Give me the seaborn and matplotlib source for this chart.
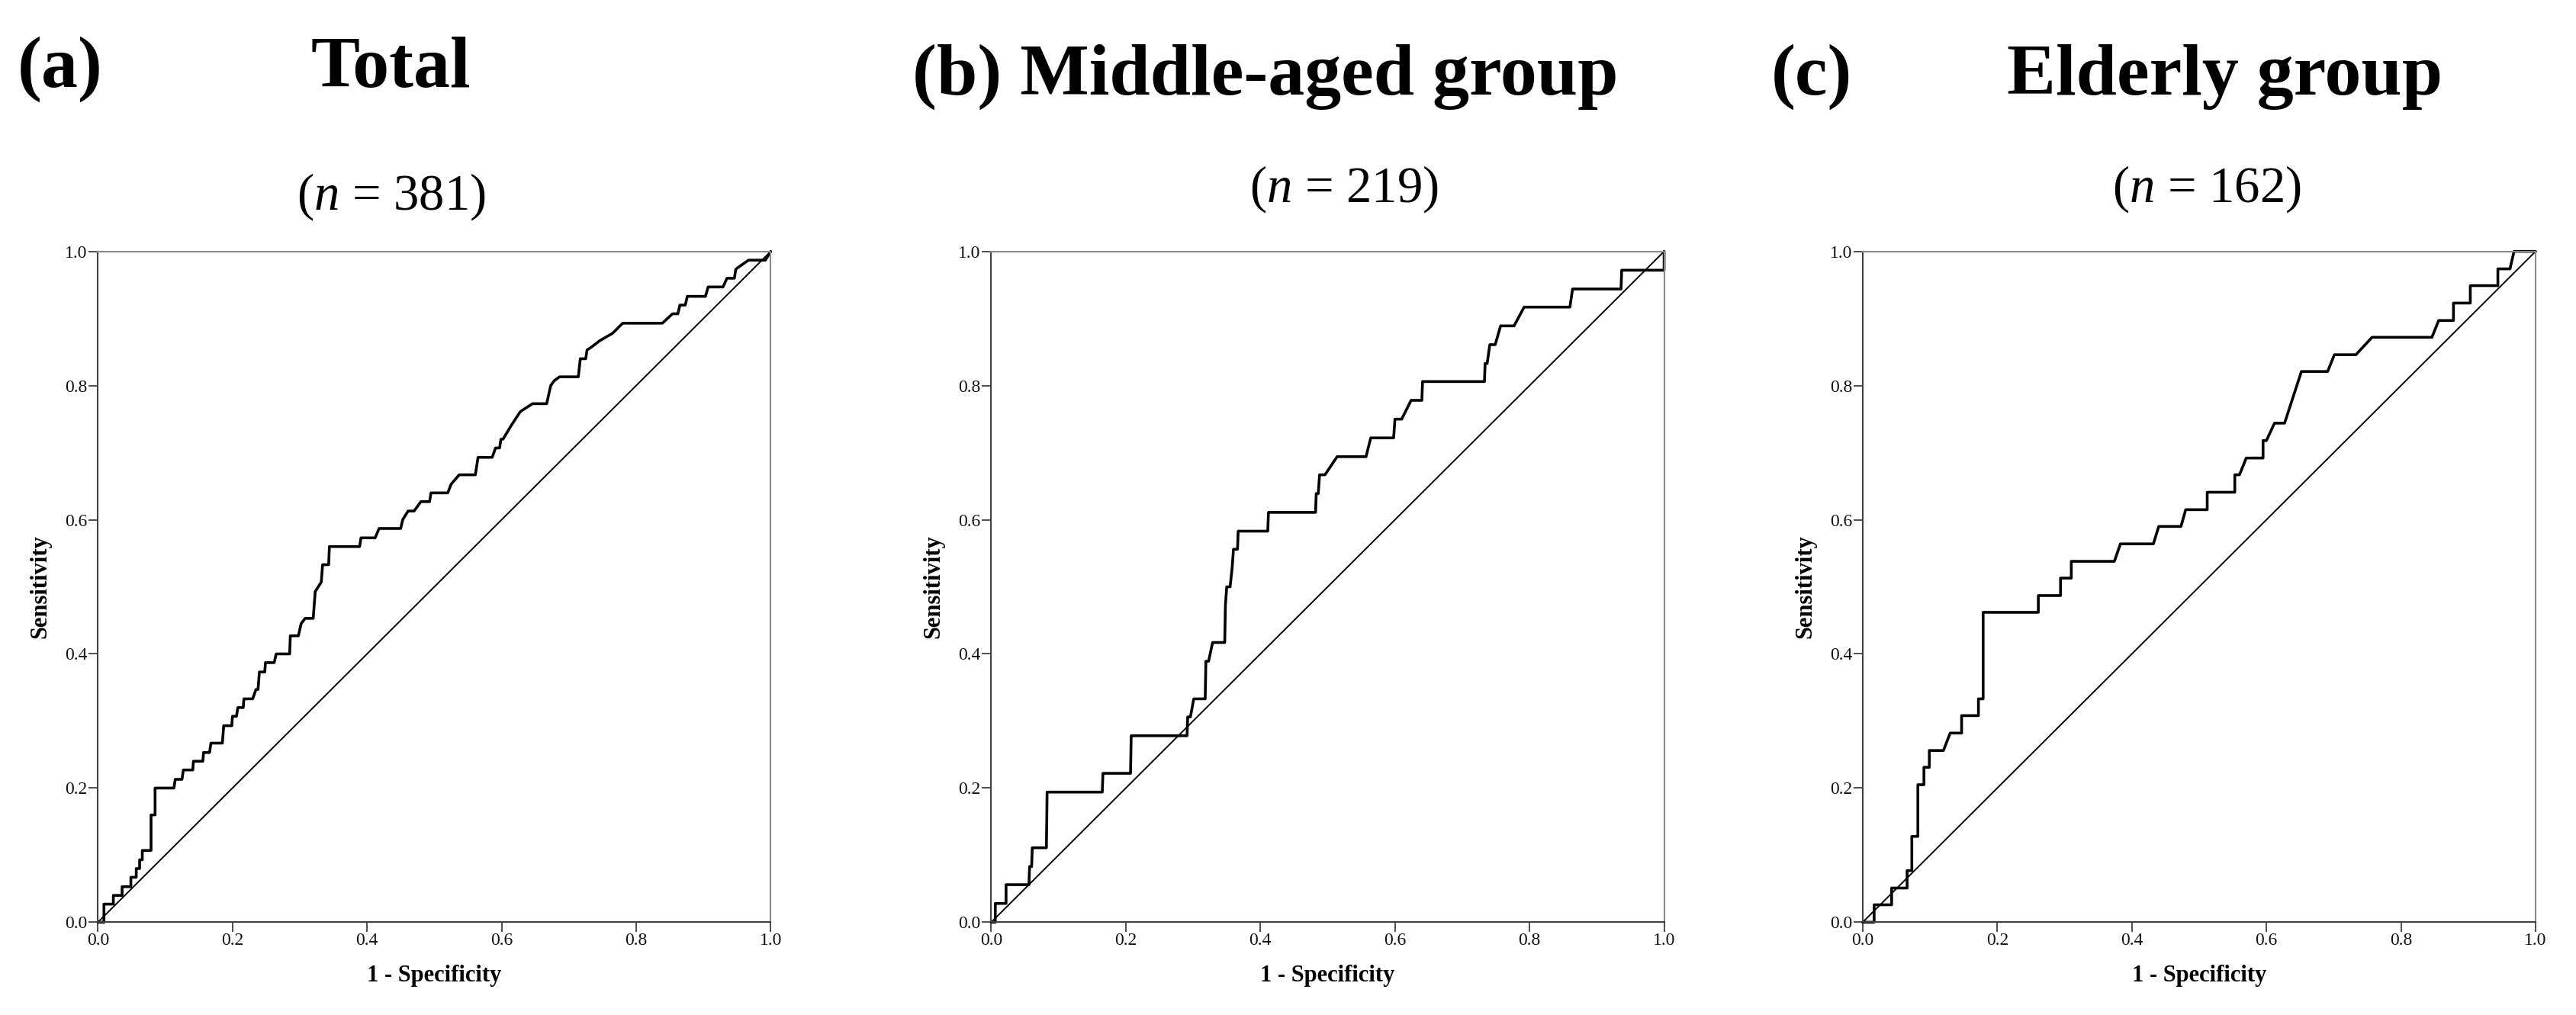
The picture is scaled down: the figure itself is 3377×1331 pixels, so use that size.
import matplotlib
matplotlib.use('Agg')
import matplotlib.pyplot as plt
import seaborn as sns

# ROC curve vertices (1 - specificity, sensitivity)
fpr_total = [0, 0.009, 0.009, 0.023, 0.023, 0.036, 0.036, 0.049, 0.049, 0.057, 0.057, 0.062, 0.062,
             0.066, 0.066, 0.079, 0.079, 0.085, 0.085, 0.113, 0.115, 0.125, 0.127, 0.141, 0.142,
             0.156, 0.157, 0.166, 0.168, 0.185, 0.187, 0.199, 0.200, 0.206, 0.208, 0.216, 0.217,
             0.230, 0.235, 0.238, 0.240, 0.248, 0.249, 0.262, 0.265, 0.285, 0.286, 0.298, 0.302,
             0.308, 0.320, 0.323, 0.332, 0.334, 0.343, 0.344, 0.389, 0.391, 0.412, 0.418, 0.450,
             0.453, 0.461, 0.470, 0.480, 0.493, 0.495, 0.520, 0.525, 0.537, 0.561, 0.565, 0.586,
             0.591, 0.597, 0.599, 0.602, 0.614, 0.627, 0.629, 0.646, 0.667, 0.673, 0.678, 0.686,
             0.714, 0.717, 0.725, 0.727, 0.733, 0.746, 0.765, 0.780, 0.839, 0.854, 0.862, 0.865,
             0.873, 0.876, 0.903, 0.907, 0.929, 0.935, 0.946, 0.948, 0.950, 0.967, 0.992, 1.0]
tpr_total = [0, 0.0, 0.027, 0.027, 0.040, 0.040, 0.053, 0.053, 0.067, 0.067, 0.080, 0.080, 0.093,
             0.093, 0.107, 0.107, 0.160, 0.160, 0.200, 0.200, 0.213, 0.213, 0.227, 0.227, 0.240,
             0.240, 0.253, 0.253, 0.267, 0.267, 0.293, 0.293, 0.307, 0.307, 0.320, 0.320, 0.333,
             0.333, 0.347, 0.347, 0.373, 0.373, 0.387, 0.387, 0.400, 0.400, 0.427, 0.427, 0.445,
             0.453, 0.453, 0.493, 0.507, 0.533, 0.533, 0.560, 0.560, 0.573, 0.573, 0.587, 0.587,
             0.600, 0.613, 0.613, 0.627, 0.627, 0.640, 0.640, 0.653, 0.667, 0.667, 0.693, 0.693,
             0.707, 0.707, 0.720, 0.720, 0.740, 0.760, 0.762, 0.773, 0.773, 0.800, 0.807, 0.813,
             0.813, 0.840, 0.840, 0.853, 0.857, 0.867, 0.878, 0.893, 0.893, 0.907, 0.907, 0.920,
             0.920, 0.933, 0.933, 0.947, 0.947, 0.960, 0.960, 0.973, 0.975, 0.987, 0.987, 1.0]

fpr_middle = [0, 0.006, 0.006, 0.022, 0.022, 0.056, 0.057, 0.060, 0.061, 0.082, 0.083, 0.165, 0.166,
              0.207, 0.208, 0.291, 0.292, 0.296, 0.301, 0.318, 0.319, 0.323, 0.329, 0.347, 0.348,
              0.350, 0.355, 0.358, 0.360, 0.366, 0.367, 0.411, 0.412, 0.482, 0.483, 0.486, 0.488,
              0.496, 0.514, 0.557, 0.564, 0.598, 0.600, 0.610, 0.624, 0.640, 0.641, 0.733, 0.734,
              0.737, 0.741, 0.749, 0.757, 0.777, 0.792, 0.860, 0.864, 0.936, 0.937, 1.0, 1.0]
tpr_middle = [0, 0.0, 0.028, 0.028, 0.056, 0.056, 0.083, 0.083, 0.111, 0.111, 0.194, 0.194, 0.222,
              0.222, 0.278, 0.278, 0.306, 0.306, 0.333, 0.333, 0.389, 0.389, 0.417, 0.417, 0.472,
              0.500, 0.500, 0.528, 0.556, 0.556, 0.583, 0.583, 0.611, 0.611, 0.639, 0.639, 0.667,
              0.667, 0.694, 0.694, 0.722, 0.722, 0.750, 0.750, 0.778, 0.778, 0.806, 0.806, 0.833,
              0.833, 0.861, 0.861, 0.889, 0.889, 0.917, 0.917, 0.944, 0.944, 0.972, 0.972, 1.0]

fpr_elderly = [0, 0.017, 0.017, 0.043, 0.043, 0.066, 0.066, 0.073, 0.073, 0.082, 0.082, 0.091, 0.091,
               0.099, 0.099, 0.120, 0.130, 0.147, 0.147, 0.172, 0.172, 0.179, 0.179, 0.261, 0.261,
               0.294, 0.294, 0.310, 0.310, 0.374, 0.383, 0.432, 0.440, 0.473, 0.480, 0.512, 0.512,
               0.553, 0.553, 0.560, 0.570, 0.595, 0.595, 0.600, 0.612, 0.627, 0.652, 0.691, 0.701,
               0.733, 0.757, 0.846, 0.856, 0.878, 0.878, 0.903, 0.903, 0.944, 0.944, 0.962, 0.968, 1.0]
tpr_elderly = [0, 0.0, 0.026, 0.026, 0.051, 0.051, 0.077, 0.077, 0.128, 0.128, 0.205, 0.205, 0.231,
               0.231, 0.256, 0.256, 0.282, 0.282, 0.308, 0.308, 0.333, 0.333, 0.462, 0.462, 0.487,
               0.487, 0.513, 0.513, 0.538, 0.538, 0.564, 0.564, 0.590, 0.590, 0.615, 0.615, 0.641,
               0.641, 0.667, 0.667, 0.692, 0.692, 0.718, 0.718, 0.744, 0.744, 0.821, 0.821, 0.846,
               0.846, 0.872, 0.872, 0.897, 0.897, 0.923, 0.923, 0.949, 0.949, 0.974, 0.974, 1.0, 1.0]

panel_tags = ['(a)', '(b)', '(c)']
panel_titles = ['Total', 'Middle-aged group', 'Elderly group']
sample_sizes = [381, 219, 162]
ticks = [0.0, 0.2, 0.4, 0.6, 0.8, 1.0]
tick_labels = ['0.0', '0.2', '0.4', '0.6', '0.8', '1.0']

sns.set_theme(style="white")
plt.rcParams['font.family'] = ['Liberation Serif', 'DejaVu Serif']
plt.rcParams['mathtext.fontset'] = 'custom'
plt.rcParams['mathtext.rm'] = 'Liberation Serif'
plt.rcParams['mathtext.it'] = 'Liberation Serif:italic'
plt.rcParams['text.color'] = 'black'
plt.rcParams['axes.labelcolor'] = 'black'

fig = plt.figure(figsize=(33.77, 13.31), dpi=100)

curves = [(fpr_total, tpr_total), (fpr_middle, tpr_middle), (fpr_elderly, tpr_elderly)]
lefts = [0.0380, 0.3848, 0.7231]

for left, (fpr, tpr) in zip(lefts, curves):
    ax = fig.add_axes([left, 0.0914, 0.2612, 0.6609])
    sns.lineplot(x=[0, 1], y=[0, 1], color='black', linewidth=1.4, ax=ax, clip_on=False)
    sns.lineplot(x=fpr, y=tpr, sort=False, estimator=None, color='black',
                 linewidth=2.6, ax=ax, clip_on=False)
    ax.set_xlim(0, 1)
    ax.set_ylim(0, 1)
    ax.set_xticks(ticks)
    ax.set_xticklabels(tick_labels)
    ax.set_yticks(ticks)
    ax.set_yticklabels(tick_labels)
    ax.tick_params(direction='out', length=9, width=1.3, color='#404040', labelsize=17,
                   labelcolor='#111111', pad=1, bottom=True, left=True)
    for side in ['left', 'bottom']:
        ax.spines[side].set_color('#404040')
        ax.spines[side].set_linewidth(1.5)
    for side in ['top', 'right']:
        ax.spines[side].set_color('#8a8a8a')
        ax.spines[side].set_linewidth(1.5)
    ax.set_xlabel('1 - Specificity', fontsize=22, fontweight='bold', va='center')
    ax.set_ylabel('Sensitivity', fontsize=22, fontweight='bold', va='center')
    ax.xaxis.set_label_coords(0.5, -0.08)
    ax.yaxis.set_label_coords(-0.0855, 0.5)

# panel headings
W, H = 3377, 1331
title_kw = dict(fontsize=69, fontweight='bold', va='baseline', color='black')
fig.text(23 / W, 1 - 114 / H, panel_tags[0], ha='left', **title_kw)
fig.text(512 / W, 1 - 114 / H, panel_titles[0], ha='center', **title_kw)
fig.text(1196 / W, 1 - 124 / H, panel_tags[1] + ' ' + panel_titles[1], ha='left', **title_kw)
fig.text(2322 / W, 1 - 124 / H, panel_tags[2], ha='left', **title_kw)
fig.text(2917 / W, 1 - 124 / H, panel_titles[2], ha='center', **title_kw)

sub_pos = [(513, 275), (1762, 265), (2893, 265)]
for (x, y), n in zip(sub_pos, sample_sizes):
    fig.text(x / W, 1 - y / H, '(' + r'$\mathit{n}$' + f' = {n})', ha='center',
             va='baseline', fontsize=48, color='black')

fig.savefig('out.png', dpi=100)
